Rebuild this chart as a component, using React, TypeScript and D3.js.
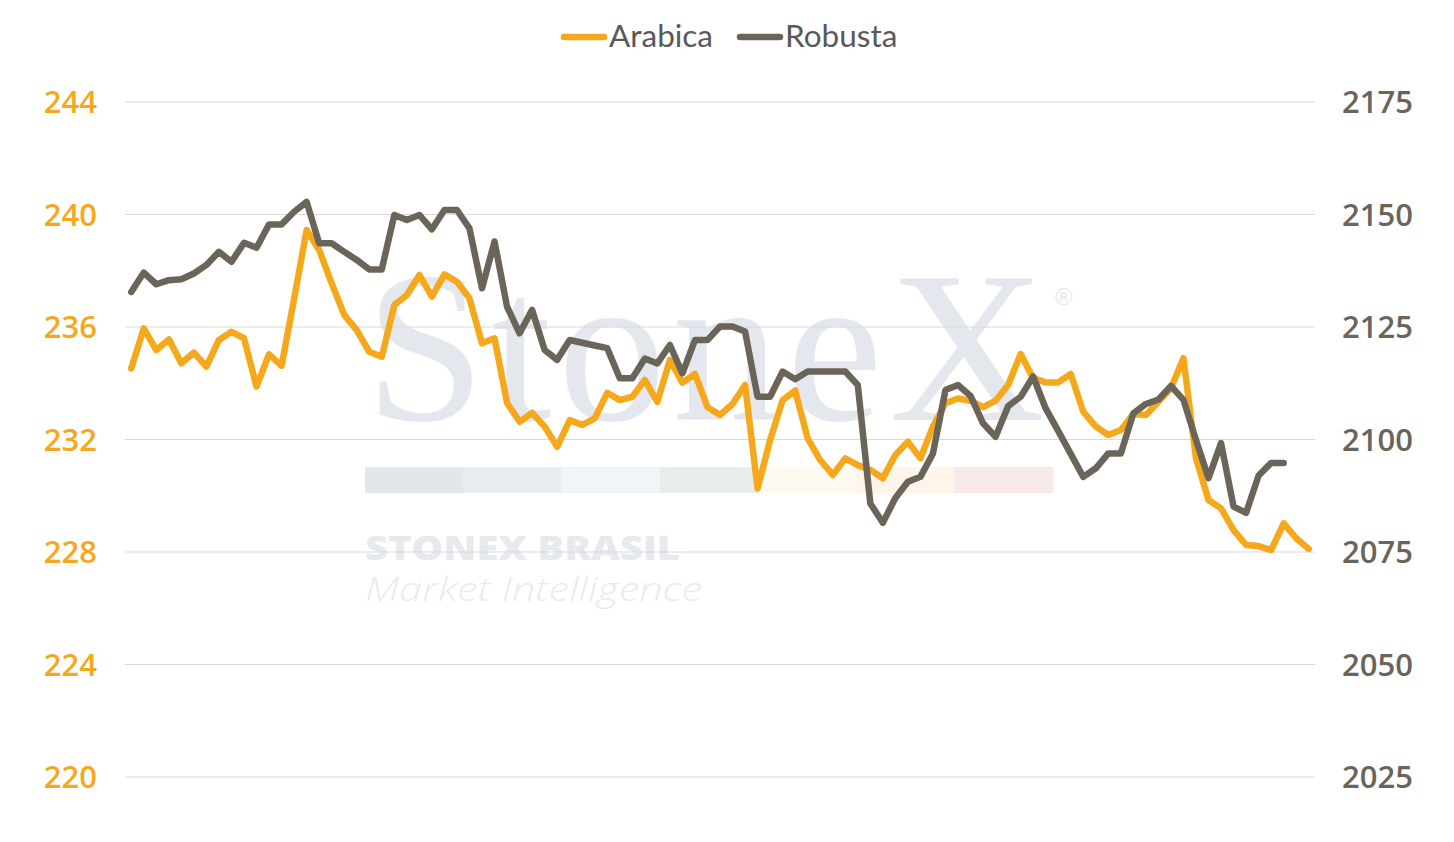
import React, { useEffect, useRef } from "react";
import * as d3 from "d3";

// values, one per session
const arabica: number[] = [
  234.53, 235.95, 235.18, 235.56, 234.71, 235.09, 234.59, 235.54, 235.83, 235.6,
  233.88, 235.03, 234.62, 237.0, 239.45, 238.74, 237.55, 236.43, 235.89, 235.12,
  234.94, 236.78, 237.14, 237.85, 237.08, 237.87, 237.61, 237.02, 235.42, 235.6,
  233.3, 232.63, 232.95, 232.46, 231.74, 232.69, 232.52, 232.75, 233.66, 233.4,
  233.52, 234.12, 233.34, 234.83, 234.02, 234.33, 233.15, 232.87, 233.26, 233.94,
  230.26, 231.98, 233.4, 233.74, 232.04, 231.27, 230.74, 231.33, 231.09, 230.92,
  230.62, 231.45, 231.92, 231.33, 232.46, 233.29, 233.46, 233.38, 233.15, 233.38,
  233.94, 235.04, 234.18, 234.03, 234.03, 234.33, 232.99, 232.46, 232.16, 232.34,
  232.91, 232.87, 233.34, 233.82, 234.89, 231.33, 229.85, 229.55, 228.78, 228.25,
  228.21, 228.07, 229.02, 228.49, 228.11,
];

const robusta: (number | null)[] = [
  2132.8, 2137.1, 2134.5, 2135.4, 2135.6, 2136.9, 2138.8, 2141.7, 2139.5, 2143.7,
  2142.6, 2147.8, 2147.8, 2150.6, 2152.8, 2143.6, 2143.6, 2141.7, 2139.9, 2137.8,
  2137.8, 2149.9, 2148.8, 2149.9, 2146.7, 2151.0, 2151.0, 2146.9, 2133.6, 2144.0,
  2129.5, 2123.6, 2128.8, 2119.9, 2117.7, 2122.1, 2121.5, 2120.9, 2120.3, 2113.6,
  2113.6, 2118.0, 2116.9, 2121.0, 2114.7, 2122.1, 2122.1, 2125.1, 2125.1, 2124.0,
  2109.5, 2109.5, 2115.1, 2113.4, 2115.1, 2115.1, 2115.1, 2115.1, 2112.1, 2085.8,
  2081.5, 2087.0, 2090.6, 2091.7, 2096.9, 2111.0, 2112.1, 2109.7, 2103.6, 2100.6,
  2107.4, 2109.5, 2114.0, 2106.9, 2101.9, 2096.8, 2091.7, 2093.6, 2096.9, 2096.9,
  2105.8, 2107.9, 2108.9, 2111.9, 2108.8, 2099.9, 2091.4, 2099.2, 2085.1, 2083.7,
  2092.0, 2094.8, 2094.8, null, null,
];

const sessions = arabica.map((_, i) => i);
const leftTicks = [220, 224, 228, 232, 236, 240, 244];
const rightTicks = [2025, 2050, 2075, 2100, 2125, 2150, 2175];

const ARABICA = "#f5a81c";
const ROBUSTA = "#6b6459";

// watermark strip colours
const stripColors = ["#e3e7ec", "#e9edf1", "#f0f5f9", "#e7efea", "#fdf9ee", "#fdf4ea", "#f7e9e9"];

const W = 1454;
const H = 842;

export default function App() {
  const svgRef = useRef<SVGSVGElement>(null);

  useEffect(() => {
    if (!svgRef.current) return;
    const svg = d3.select(svgRef.current);
    svg.selectAll("*").remove();

    const left = 125;
    const right = 1315;
    const top = 102;
    const bottom = 777;

    const x = d3
      .scalePoint<number>()
      .domain(sessions)
      .range([left, right])
      .padding(0.5);
    const yL = d3.scaleLinear().domain([220, 244]).range([bottom, top]);
    const yR = d3.scaleLinear().domain([2025, 2175]).range([bottom, top]);

    // watermark
    const wm = svg.append("g");
    wm.append("text")
      .attr("x", 365)
      .attr("y", 420)
      .attr("textLength", 680)
      .attr("lengthAdjust", "spacing")
      .style("font-family", "'Liberation Serif', 'DejaVu Serif', serif")
      .style("font-size", "216px")
      .style("fill", "#e4e8ee")
      .text("StoneX");
    wm.append("text")
      .attr("x", 1055)
      .attr("y", 305)
      .style("font-family", "'Liberation Sans', sans-serif")
      .style("font-size", "24px")
      .style("fill", "#e4e8ee")
      .text("®");
    const stripW = (1053 - 365) / stripColors.length;
    wm.selectAll("rect.strip")
      .data(stripColors)
      .enter()
      .append("rect")
      .attr("class", "strip")
      .attr("x", (_, i) => 365 + i * stripW)
      .attr("y", 467)
      .attr("width", stripW + 0.5)
      .attr("height", 26)
      .attr("fill", (d) => d);
    wm.append("text")
      .attr("x", 365)
      .attr("y", 560)
      .attr("textLength", 315)
      .attr("lengthAdjust", "spacingAndGlyphs")
      .style("font-family", "'Open Sans', sans-serif")
      .style("font-weight", "800")
      .style("font-size", "34px")
      .style("fill", "#e6e9ee")
      .text("STONEX BRASIL");
    wm.append("text")
      .attr("x", 365)
      .attr("y", 601)
      .attr("textLength", 337)
      .attr("lengthAdjust", "spacingAndGlyphs")
      .style("font-family", "'Open Sans', sans-serif")
      .style("font-style", "italic")
      .style("font-weight", "300")
      .style("font-size", "33px")
      .style("fill", "#e8ebf0")
      .text("Market Intelligence");

    // grid
    svg
      .append("g")
      .selectAll("line")
      .data(leftTicks)
      .enter()
      .append("line")
      .attr("x1", left)
      .attr("x2", right)
      .attr("y1", (d) => yL(d))
      .attr("y2", (d) => yL(d))
      .attr("stroke", "#d9d9d9")
      .attr("stroke-width", 1);

    // axis labels
    svg
      .append("g")
      .selectAll("text")
      .data(leftTicks)
      .enter()
      .append("text")
      .attr("x", 97)
      .attr("y", (d) => yL(d))
      .attr("dy", "0.36em")
      .attr("text-anchor", "end")
      .style("font-family", "'Open Sans', sans-serif")
      .style("font-weight", "600")
      .style("font-size", "31px")
      .style("fill", ARABICA)
      .text((d) => d);
    svg
      .append("g")
      .selectAll("text")
      .data(rightTicks)
      .enter()
      .append("text")
      .attr("x", 1342)
      .attr("y", (d) => yR(d))
      .attr("dy", "0.36em")
      .style("font-family", "'Open Sans', sans-serif")
      .style("font-weight", "600")
      .style("font-size", "31px")
      .style("fill", ROBUSTA)
      .text((d) => d);

    // lines
    const arabicaLine = d3
      .line<number>()
      .x((_, i) => x(i) as number)
      .y((d) => yL(d));
    const robustaLine = d3
      .line<number | null>()
      .defined((d) => d !== null)
      .x((_, i) => x(i) as number)
      .y((d) => yR(d as number));

    svg
      .append("path")
      .datum(arabica)
      .attr("fill", "none")
      .attr("stroke", ARABICA)
      .attr("stroke-width", 6.5)
      .attr("stroke-linejoin", "round")
      .attr("stroke-linecap", "round")
      .attr("d", arabicaLine);
    svg
      .append("path")
      .datum(robusta)
      .attr("fill", "none")
      .attr("stroke", ROBUSTA)
      .attr("stroke-width", 6.5)
      .attr("stroke-linejoin", "round")
      .attr("stroke-linecap", "round")
      .attr("d", robustaLine);

    // legend
    const legend = [
      { name: "Arabica", color: ARABICA, x: 564 },
      { name: "Robusta", color: ROBUSTA, x: 740 },
    ];
    const lg = svg.append("g");
    legend.forEach((l) => {
      lg.append("line")
        .attr("x1", l.x)
        .attr("x2", l.x + 40)
        .attr("y1", 37)
        .attr("y2", 37)
        .attr("stroke", l.color)
        .attr("stroke-width", 6.5)
        .attr("stroke-linecap", "round");
      lg.append("text")
        .attr("x", l.x + 45)
        .attr("y", 47)
        .style("font-family", "Lato, sans-serif")
        .style("font-size", "31.5px")
        .style("fill", "#595959")
        .text(l.name);
    });
  }, []);

  return (
    <svg
      ref={svgRef}
      width={W}
      height={H}
      viewBox={`0 0 ${W} ${H}`}
      style={{ position: "absolute", left: 0, top: 0, background: "#fff" }}
    />
  );
}
